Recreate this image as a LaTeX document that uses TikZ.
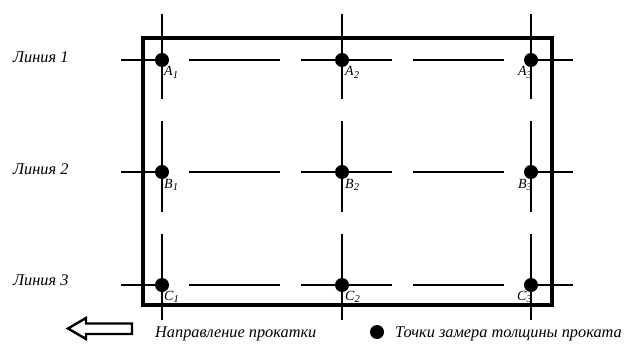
\documentclass[tikz,border=0pt]{standalone}
\usepackage{fontspec}
\setmainfont{Liberation Serif}
\newcommand{\sbs}[1]{\raisebox{-2.8pt}{\fontsize{10.5}{10.5}\selectfont #1}}
\begin{document}
\begin{tikzpicture}[x=1pt,y=-1pt,
  frame/.style={line width=3.2pt},
  hline/.style={line width=2pt, dash pattern=on 47pt off 21pt on 91pt off 21pt on 91pt off 21pt on 91pt off 21pt on 48pt},
  vline/.style={line width=2pt, dash pattern=on 85pt off 22pt on 91pt off 22pt on 86pt},
  mpt/.style={circle, fill=black, inner sep=0pt, minimum size=14pt},
  lbl/.style={font=\fontsize{14}{14}\selectfont\itshape, inner sep=0pt},
  txt/.style={font=\fontsize{16.3}{16.3}\selectfont\itshape, inner sep=0pt},
  arrowbox/.style={line width=2.4pt, fill=white}]
\useasboundingbox (0,0) rectangle (626,348);
% frame
\coordinate (f1) at (143,38);
\coordinate (f2) at (552,305);
\draw[frame] (f1) rectangle (f2);
% horizontal lines
\foreach \r/\y in {A/60,B/172,C/285}{
  \coordinate (h\r0) at (121,\y);
  \coordinate (h\r1) at (574,\y);
  \draw[hline] (h\r0) -- (h\r1);
}
% vertical lines
\foreach \c/\x in {1/162,2/342,3/531}{
  \coordinate (v\c0) at (\x,14);
  \coordinate (v\c1) at (\x,320);
  \draw[vline] (v\c0) -- (v\c1);
}
% points
\foreach \r/\y in {A/60,B/172,C/285}{
  \foreach \c/\x in {1/162,2/342,3/531}{
    \node[mpt] (\r\c) at (\x,\y) {};
  }
}
% labels
\node[lbl, anchor=base west] (lA1) at (164,75.5) {A\sbs{1}};
\node[lbl, anchor=base west] (lA2) at (345,75.5) {A\sbs{2}};
\node[lbl, anchor=base east] (lA3) at (532,75.5) {A\sbs{3}};
\node[lbl, anchor=base west] (lB1) at (164,188) {B\sbs{1}};
\node[lbl, anchor=base west] (lB2) at (345,188) {B\sbs{2}};
\node[lbl, anchor=base east] (lB3) at (532,188) {B\sbs{3}};
\node[lbl, anchor=base west] (lC1) at (164,300) {C\sbs{1}};
\node[lbl, anchor=base west] (lC2) at (345,300) {C\sbs{2}};
\node[lbl, anchor=base east] (lC3) at (532,300) {C\sbs{3}};
% line names
\node[txt, anchor=base west] (L1) at (13,62) {Линия 1};
\node[txt, anchor=base west] (L2) at (13,174.5) {Линия 2};
\node[txt, anchor=base west] (L3) at (13,285.5) {Линия 3};
% arrow
\draw[arrowbox] (68,328.5) -- (86,318) -- (86,323.5) -- (132,323.5) -- (132,334) -- (86,334) -- (86,339) -- cycle;
\node[txt, anchor=base west] (dir) at (155,337.5) {Направление прокатки};
% legend
\node[mpt] (leg) at (377,332) {};
\node[txt, anchor=base west] (legt) at (395,337.5) {Точки замера толщины проката};
\end{tikzpicture}
\end{document}
